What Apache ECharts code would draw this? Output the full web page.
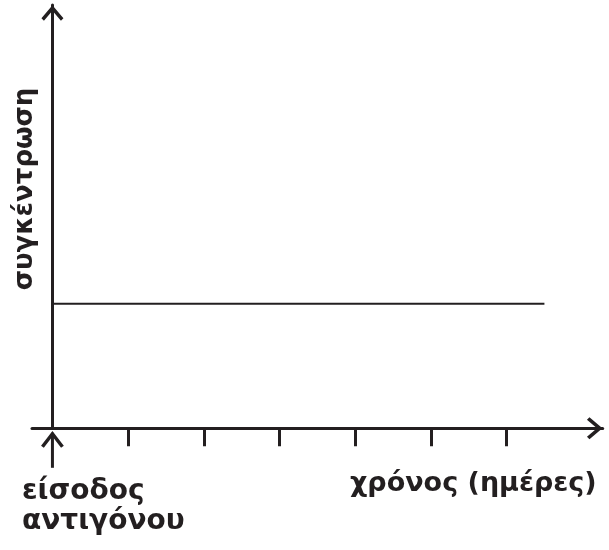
<!DOCTYPE html>
<html>
<head>
<meta charset="utf-8">
<script src="https://cdn.jsdelivr.net/npm/echarts@6/dist/echarts.min.js"></script>
<style>
  html, body { margin: 0; padding: 0; background: #fff; }
  #chart { width: 609px; height: 550px; }
</style>
</head>
<body>
<div id="chart"></div>
<script>
// data
const days = [0, 6.5]              // time span of the line (days)
const concentration = [1, 1]       // constant level
const tickDays = [1, 2, 3, 4, 5, 6]
const eventDay = 0                 // antigen entry
const xRange = [-0.27, 7.27]
const yRange = [0, 3.4]

const yTitle = 'συγκέντρωση'
const xTitle = 'χρόνος (ημέρες)'
const eventLabel = 'είσοδος\nαντιγόνου'

const ink = '#231f20'
const font = '"DejaVu Sans", sans-serif'
// open chevron, tip up
const chevron = 'path://M11 0 L22 13 L19.5 15.5 L11 5.5 L2.5 15.5 L0 13 Z'

const chart = echarts.init(document.getElementById('chart'))

const option = {
    animation: false,
    grid: {
        left: 32,
        right: 6.3,
        top: 5,
        bottom: 121.7,
        outerBoundsMode: 'none'
    },
    xAxis: {
        type: 'value',
        min: xRange[0],
        max: xRange[1],
        name: xTitle,
        nameLocation: 'end',
        nameGap: -6,
        nameTextStyle: {
            fontFamily: font,
            fontWeight: 'bold',
            fontSize: 27,
            color: ink,
            align: 'right',
            verticalAlign: 'top',
            padding: [42, 0, 0, 0]
        },
        axisLine: {
            onZero: true,
            symbol: ['none', chevron],
            symbolSize: [22, 16],
            symbolOffset: [0, -8],
            lineStyle: { color: ink, width: 3 }
        },
        axisTick: {
            show: true,
            inside: false,
            length: 18,
            customValues: tickDays,
            lineStyle: { color: ink, width: 3 }
        },
        axisLabel: { show: false },
        splitLine: { show: false }
    },
    yAxis: {
        type: 'value',
        min: yRange[0],
        max: yRange[1],
        axisLine: {
            onZero: true,
            symbol: ['none', chevron],
            symbolSize: [22, 16],
            symbolOffset: [0, -8],
            lineStyle: { color: ink, width: 3 }
        },
        axisTick: { show: false },
        axisLabel: { show: false },
        splitLine: { show: false }
    },
    series: [{
        type: 'line',
        data: days.map((d, i) => [d, concentration[i]]),
        symbol: 'none',
        lineStyle: { color: ink, width: 2 }
    }]
}

chart.setOption(option)

// antigen entry marker below the time axis, titles
const p = chart.convertToPixel({ gridIndex: 0 }, [eventDay, yRange[0]])
const tipY = p[1] + 4.5
chart.setOption({
    graphic: [
        {
            type: 'line',
            shape: { x1: p[0], y1: tipY, x2: p[0], y2: tipY + 35 },
            style: { stroke: ink, lineWidth: 3 }
        },
        {
            type: 'polyline',
            shape: { points: [[p[0] - 10, tipY + 14], [p[0], tipY + 1], [p[0] + 10, tipY + 14]] },
            style: { stroke: ink, lineWidth: 3.5, fill: null }
        },
        {
            type: 'text',
            left: 22,
            top: 477,
            style: {
                text: eventLabel,
                fontFamily: font,
                fontWeight: 'bold',
                fontSize: 28,
                lineHeight: 30,
                fill: ink
            }
        },
        {
            type: 'text',
            x: 25,
            y: 189,
            rotation: Math.PI / 2,
            style: {
                text: yTitle,
                fontFamily: font,
                fontWeight: 'bold',
                fontSize: 26,
                fill: ink,
                align: 'center',
                verticalAlign: 'middle'
            }
        }
    ]
})
</script>
</body>
</html>
